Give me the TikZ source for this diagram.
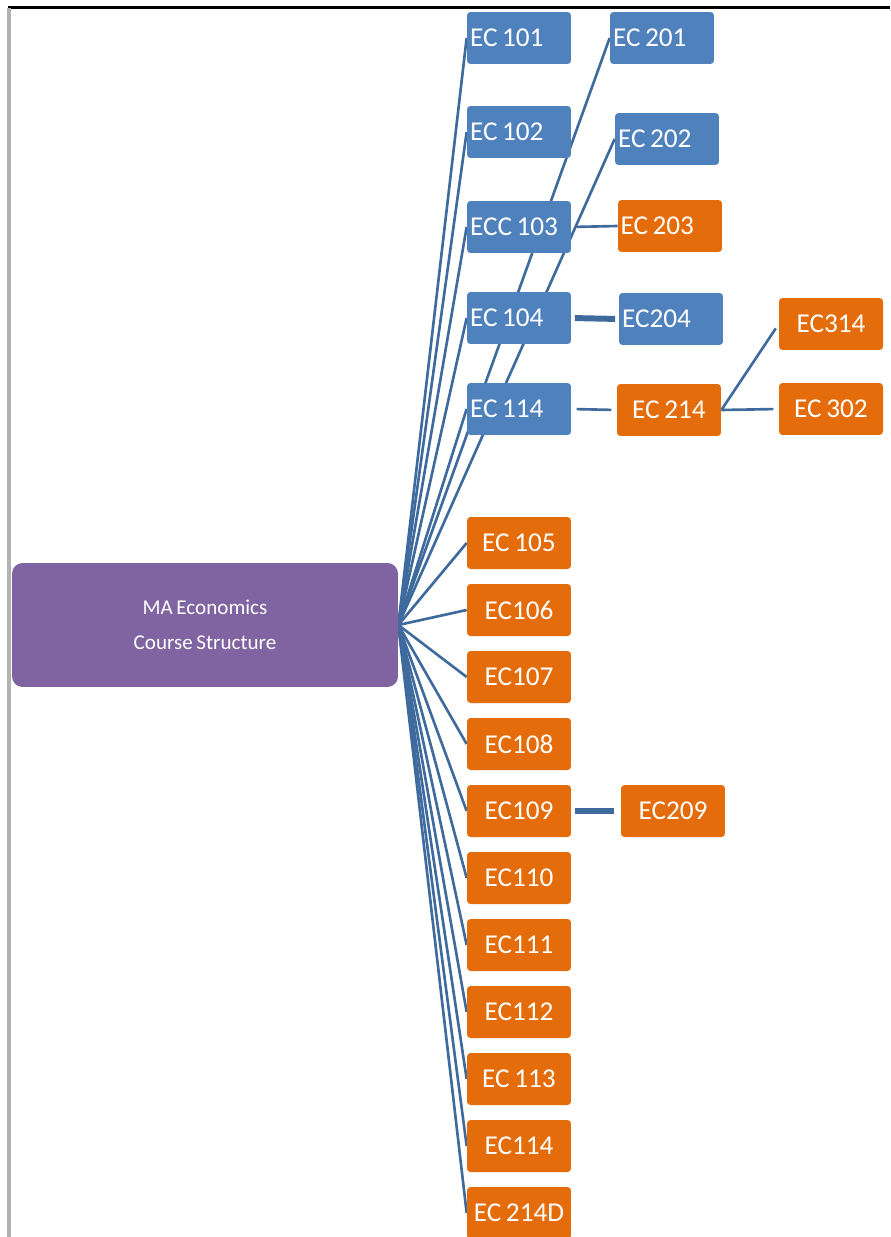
\documentclass[tikz,border=0pt]{standalone}
\usepackage{fontspec}
\setmainfont{Carlito}[WordSpace=0.75]
\usetikzlibrary{backgrounds}

\definecolor{courseblue}{RGB}{79,129,189}
\definecolor{courseorange}{RGB}{228,108,10}
\definecolor{rootpurple}{RGB}{128,100,162}
\definecolor{linkblue}{RGB}{62,106,158}

\tikzset{
  course/.style={minimum width=2.08cm, minimum height=1.04cm, inner sep=0pt,
    rounded corners=2pt, text=white, font=\fontsize{15.5}{18}\selectfont},
  bluebox/.style={course, fill=courseblue, text width=1.96cm, align=flush left, inner xsep=0.06cm},
  orangebox/.style={course, fill=courseorange},
  orangeleft/.style={orangebox, text width=1.98cm, align=flush left, inner xsep=0.05cm},
  link/.style={draw=linkblue, line width=1.5pt},
  thicklink/.style={link, line width=3.4pt},
}

\begin{document}
\begin{tikzpicture}[x=0.02cm, y=-0.02cm]
  \useasboundingbox (0,0) rectangle (890,1237);
  % page frame
  \draw[black, line width=0.06cm] (8,8) -- (890,8);
  \draw[black!30, line width=0.08cm] (9,8) -- (9,1237);

  % root
  \node[fill=rootpurple, rounded corners=6pt, minimum width=7.72cm, minimum height=2.48cm,
    text=white, align=center, font=\fontsize{12}{20}\selectfont] (root) at (205,625)
    {MA Economics\\Course Structure};

  % first level, blue
  \node[bluebox] (c101) at (519,38) {EC 101};
  \node[bluebox] (c102) at (519,132) {EC 102};
  \node[bluebox] (c103) at (519,227) {ECC 103};
  \node[bluebox] (c104) at (519,318) {EC 104};
  \node[bluebox] (c114) at (519,409) {EC 114};

  % first level, orange
  \node[orangebox] (c105) at (519,543) {EC 105};
  \node[orangebox] (c106) at (519,610) {EC106};
  \node[orangebox] (c107) at (519,677) {EC107};
  \node[orangebox] (c108) at (519,744) {EC108};
  \node[orangebox] (c109) at (519,811) {EC109};
  \node[orangebox] (c110) at (519,878) {EC110};
  \node[orangebox] (c111) at (519,945) {EC111};
  \node[orangebox] (c112) at (519,1012) {EC112};
  \node[orangebox] (c113) at (519,1079) {EC 113};
  \node[orangebox] (c114b) at (519,1146) {EC114};
  \node[orangebox] (c214d) at (519,1213) {EC 214D};

  % second level
  \node[bluebox] (c201) at (662,38) {EC 201};
  \node[bluebox] (c202) at (667,139) {EC 202};
  \node[orangeleft] (c203) at (670,226) {EC 203};
  \node[bluebox] (c204) at (671,319) {EC204};
  \node[orangebox] (c214) at (669,410) {EC 214};
  \node[orangebox] (c209) at (673,811) {EC209};

  % third level
  \node[orangebox] (c314) at (831,324) {EC314};
  \node[orangebox] (c302) at (831,409) {EC 302};

  % connectors
  \begin{scope}[on background layer]
    \draw[link] (root.east) -- (c101.west);
    \draw[link] (root.east) -- (c102.west);
    \draw[link] (root.east) -- (c103.west);
    \draw[link] (root.east) -- (c104.west);
    \draw[link] (root.east) -- (c114.west);
    \draw[link] (root.east) -- (c201.west);
    \draw[link] (root.east) -- (c202.west);
    \draw[link] (root.east) -- (c105.west);
    \draw[link] (root.east) -- (c106.west);
    \draw[link] (root.east) -- (c107.west);
    \draw[link] (root.east) -- (c108.west);
    \draw[link] (root.east) -- (c109.west);
    \draw[link] (root.east) -- (c110.west);
    \draw[link] (root.east) -- (c111.west);
    \draw[link] (root.east) -- (c112.west);
    \draw[link] (root.east) -- (c113.west);
    \draw[link] (root.east) -- (c114b.west);
    \draw[link] (root.east) -- (c214d.west);
    \draw[link, shorten <=3pt] (c103.east) -- (c203.west);
    \draw[thicklink, shorten <=2pt, shorten >=2pt] (c104.east) -- (c204.west);
    \draw[link, shorten <=3pt, shorten >=3pt] (c114.east) -- (c214.west);
    \draw[thicklink, shorten <=2pt, shorten >=4pt] (c109.east) -- (c209.west);
    \draw[link, shorten >=3pt] (c214.east) -- (c314.west);
    \draw[link, shorten >=3pt] (c214.east) -- (c302.west);
  \end{scope}
\end{tikzpicture}
\end{document}
